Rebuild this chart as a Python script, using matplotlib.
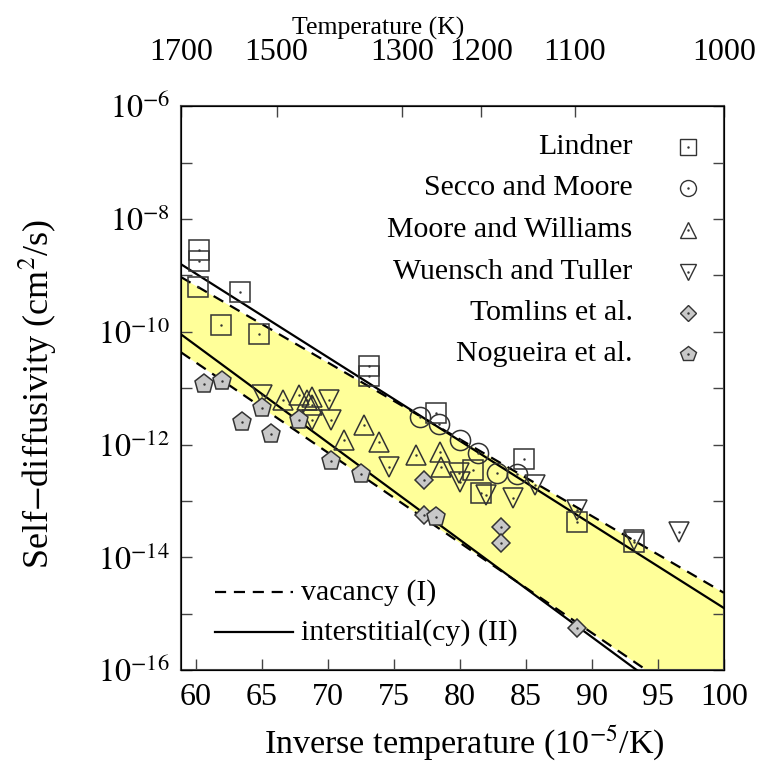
import numpy as np
import matplotlib
matplotlib.use("Agg")
import matplotlib.pyplot as plt

plt.rcParams['font.family'] = ['Liberation Serif', 'DejaVu Serif']
plt.rcParams['mathtext.fontset'] = 'stix'

# Arrhenius fits: log10 of prefactor (cm^2/s) and activation energy (eV)
fit_names = ["vacancy (I)", "interstitial(cy) (II)"]
upper_logD0 = [-1.02, -0.08]
upper_Ea = [2.70, 2.94]
lower_logD0 = [-0.96, 0.10]
lower_Ea = [3.17, 3.42]

# measured self-diffusivity, x in 1e-5/K, y as log10(D)
lindner_x = [60.2, 60.2, 60.15, 63.3, 61.9, 64.75, 73.1, 73.1, 78.15, 84.85, 81.0, 81.6, 88.9, 93.2]
lindner_y = [-8.55, -8.75, -9.21, -9.30, -9.87, -10.04, -10.61, -10.79, -11.44, -12.26, -12.45, -12.86, -13.38, -13.73]

secco_x = [77.0, 78.4, 80.0, 81.4, 82.8, 84.3]
secco_y = [-11.51, -11.64, -11.92, -12.15, -12.51, -12.52]

moore_x = [66.55, 67.8, 68.4, 68.75, 68.8, 71.2, 72.7, 73.9, 76.65, 78.5, 78.6]
moore_y = [-11.21, -11.12, -11.21, -11.16, -11.30, -11.92, -11.66, -11.96, -12.19, -12.13, -12.40]

wuensch_x = [65.0, 68.8, 70.1, 70.25, 74.6, 79.9, 80.0, 82.0, 84.0, 85.7, 88.9, 93.2, 96.6]
wuensch_y = [-11.12, -11.57, -11.21, -11.57, -12.40, -12.51, -12.67, -12.90, -12.95, -12.72, -13.16, -13.70, -13.55]

tomlins_x = [77.3, 83.1, 83.1, 88.9, 77.25]
tomlins_y = [-12.63, -13.46, -13.75, -15.26, -13.25]

nogueira_x = [60.6, 61.96, 63.5, 65.0, 65.65, 67.8, 70.25, 72.5, 78.15]
nogueira_y = [-10.93, -10.88, -11.59, -11.35, -11.82, -11.57, -12.29, -12.52, -13.29]

top_temps = [1700, 1500, 1300, 1200, 1100, 1000]
top_pos = [58.85, 66.1, 75.6, 81.6, 88.7, 100.0]

series = [
    ("Lindner", lindner_x, lindner_y, 's', 14.5, 'none'),
    ("Secco and Moore", secco_x, secco_y, 'o', 14.5, 'none'),
    ("Moore and Williams", moore_x, moore_y, '^', 15, 'none'),
    ("Wuensch and Tuller", wuensch_x, wuensch_y, 'v', 15, 'none'),
    ("Tomlins et al.", tomlins_x, tomlins_y, 'D', 9.5, '#c8c8c8'),
    ("Nogueira et al.", nogueira_x, nogueira_y, 'p', 14, '#c8c8c8'),
]
legend_size = {'s': 11.5, 'o': 11.5, '^': 12, 'v': 12, 'D': 8, 'p': 11.5}

edge = '#333333'

fig = plt.figure(figsize=(7.7, 7.65), dpi=100)
ax = fig.add_axes([0.235, 0.124, 0.705, 0.737])

xs = np.linspace(58.85, 100, 200)
k_B = 8.617e-5


def arrhenius(logD0, Ea):
    return 10 ** (logD0 - Ea / (k_B * np.log(10)) * xs * 1e-5)


ax.fill_between(xs, arrhenius(upper_logD0[0], upper_Ea[0]),
                arrhenius(lower_logD0[0], lower_Ea[0]),
                color='#ffff99', lw=0, zorder=1)
styles = ['--', '-']
for i in range(2):
    for d0, ea in [(upper_logD0[i], upper_Ea[i]), (lower_logD0[i], lower_Ea[i])]:
        ax.plot(xs, arrhenius(d0, ea), styles[i], color='black', lw=1.6,
                dashes=(5, 3.5) if i == 0 else (None, None), zorder=3)

for name, x, y, m, ms, fc in series:
    yy = 10 ** np.array(y)
    ax.plot(x, yy, m, ms=ms, mfc=fc, mec=edge, mew=1.1, ls='none', zorder=4)
    ax.plot(x, yy, '.', ms=1.5, color=edge, zorder=5)

# key in the upper right
rows = [0.927, 0.855, 0.780, 0.706, 0.633, 0.560]
for (name, x, y, m, ms, fc), ry in zip(series, rows):
    ax.text(0.832, ry, name, transform=ax.transAxes, ha='right', va='center', fontsize=21.5)
    ax.plot([0.934], [ry], m, ms=legend_size[m], mfc=fc, mec=edge, mew=1.0,
            transform=ax.transAxes, clip_on=False, zorder=6)
    ax.plot([0.934], [ry], '.', ms=1.5, color=edge, transform=ax.transAxes, zorder=7)

# key for the fitted lines
for i, ry in enumerate([0.138, 0.067]):
    ax.plot([0.0626, 0.206], [ry, ry], styles[i], color='black', lw=1.6,
            dashes=(5, 3.5) if i == 0 else (None, None), transform=ax.transAxes)
    ax.text(0.222, ry, fit_names[i], transform=ax.transAxes, ha='left', va='center', fontsize=21.5)

ax.set_yscale('log')
ax.set_xlim(58.85, 100)
ax.set_ylim(1e-16, 1e-6)
ax.set_xticks(np.arange(60, 101, 5))
decades = [10.0 ** e for e in range(-16, -5)]
ax.set_yticks(decades)
ax.set_yticklabels([r'$10^{%d}$' % e if e % 2 == 0 else '' for e in range(-16, -5)])
ax.minorticks_off()
ax.tick_params(axis='both', direction='in', length=8, width=1, labelsize=23, pad=8,
               right=True, color='#444444')
ax.tick_params(axis='x', pad=9)
for s in ax.spines.values():
    s.set_linewidth(1.5)
    s.set_color('#444444')

ax.set_xlabel(r'Inverse temperature (10$^{-5}$/K)', fontsize=24.5)
ax.xaxis.set_label_coords(0.523, -0.095)
ax.set_ylabel(r'Self$-$diffusivity (cm$^2$/s)', fontsize=26)
ax.yaxis.set_label_coords(-0.225, 0.49)

ax2 = ax.twiny()
ax2.set_xlim(ax.get_xlim())
ax2.set_xticks(top_pos)
ax2.set_xticklabels([str(t) for t in top_temps])
ax2.minorticks_off()
ax2.tick_params(axis='x', direction='in', length=8, width=1, labelsize=23, pad=28, color='#444444')
ax2.set_xlabel('Temperature (K)', fontsize=18.5)
ax2.xaxis.set_label_coords(0.363, 1.128)

fig.savefig('out.png', dpi=100)
